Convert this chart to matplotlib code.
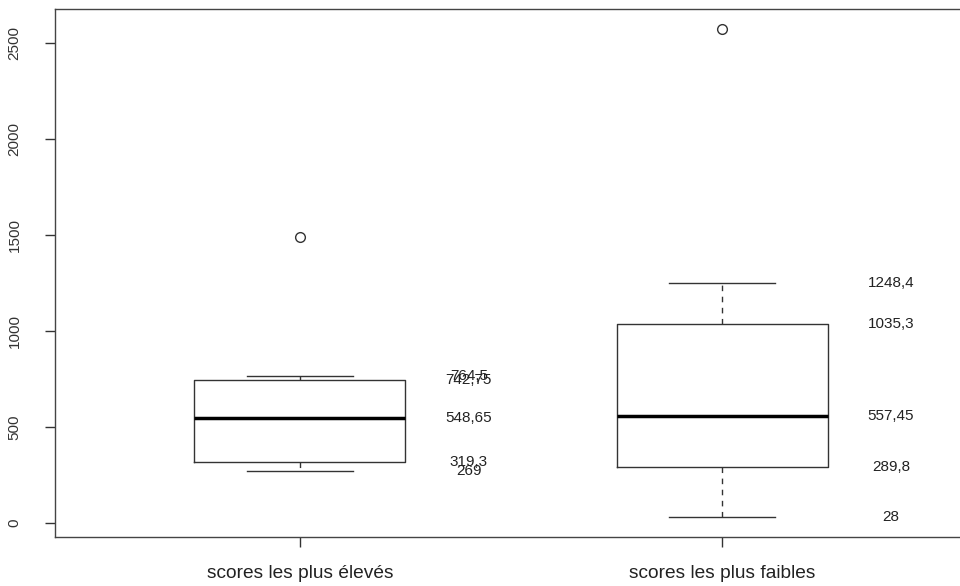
import matplotlib
matplotlib.use('Agg')
import matplotlib.pyplot as plt

plt.rcParams['font.family'] = ['Liberation Sans', 'DejaVu Sans']

# Boxplot statistics
categories = ['scores les plus élevés', 'scores les plus faibles']
whis_low = [269, 28]
q1 = [319.3, 289.8]
medians = [548.65, 557.45]
q3 = [742.75, 1035.3]
whis_high = [764.5, 1248.4]
outliers = [[1490], [2575]]
y_ticks = [0, 500, 1000, 1500, 2000, 2500]

fmt = lambda v: f"{v:g}".replace('.', ',')

stats = []
for i in range(len(categories)):
    stats.append({'whislo': whis_low[i], 'q1': q1[i], 'med': medians[i],
                  'q3': q3[i], 'whishi': whis_high[i], 'fliers': outliers[i]})

fig = plt.figure(figsize=(9.6, 5.86), dpi=100)
ax = fig.add_axes([55 / 960, 49 / 586, 912 / 960, 528 / 586])

positions = [1, 2]
ax.bxp(stats, positions=positions, widths=0.5, capwidths=0.25,
       showfliers=True, patch_artist=False,
       boxprops=dict(color='#333333', linewidth=1.0),
       medianprops=dict(color='black', linewidth=2.5, solid_capstyle='butt'),
       whiskerprops=dict(color='#333333', linewidth=1.0, linestyle=(0, (4, 4))),
       capprops=dict(color='#333333', linewidth=1.0),
       flierprops=dict(marker='o', markersize=7, markerfacecolor='none',
                       markeredgecolor='#333333', markeredgewidth=1.0))

# value labels to the right of each box (overlaps as in the original)
for i, p in enumerate(positions):
    for v in [whis_low[i], q1[i], medians[i], q3[i], whis_high[i]]:
        ax.text(p + 0.4, v, fmt(v), ha='center', va='center', fontsize=11, color='#222222')

lo = min(whis_low)
hi = max(max(o) for o in outliers)
pad = (hi - lo) * 0.04
ax.set_ylim(lo - pad, hi + pad)
ax.set_xlim(0.42, 2.58)

ax.set_yticks(y_ticks)
ax.set_yticklabels([str(t) for t in y_ticks], rotation=90, va='center', fontsize=11, color='#333333')
ax.set_xticks(positions)
ax.set_xticklabels(categories, fontsize=13.8, color='#222222')
ax.tick_params(axis='both', direction='out', length=7, width=1, color='#333333')
ax.tick_params(axis='y', pad=17)
ax.tick_params(axis='x', pad=13)

for s in ax.spines.values():
    s.set_color('#444444')
    s.set_linewidth(1.0)

fig.savefig('out.png', dpi=100)
